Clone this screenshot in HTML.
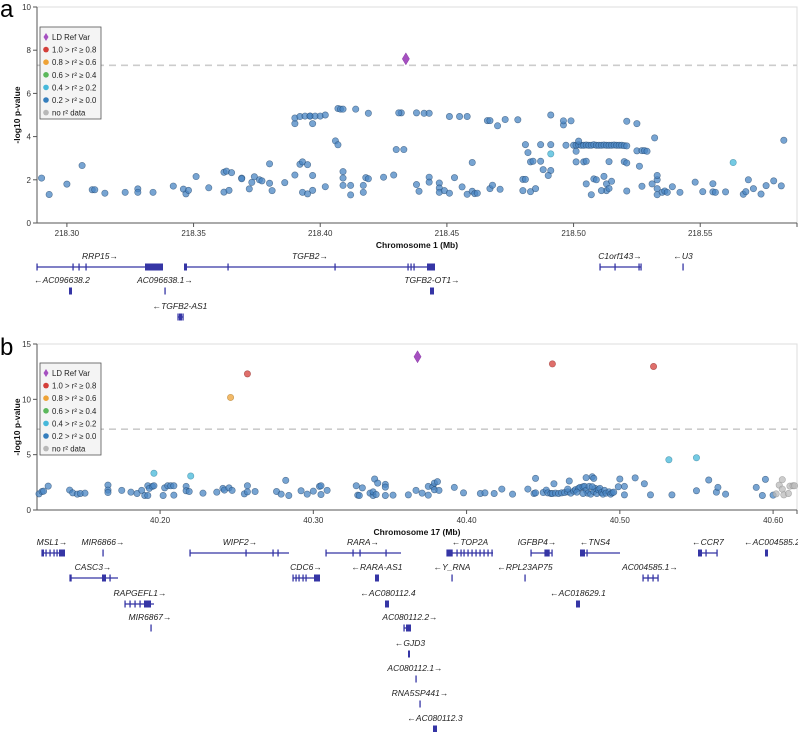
<!DOCTYPE html>
<html><head><meta charset="utf-8"><style>
body{margin:0;background:#fff;}
svg{display:block;font-family:"Liberation Sans",sans-serif;}
.tk{font-size:8px;fill:#333;}
.gl{font-size:8.5px;font-style:italic;fill:#222;}
.ax{font-size:8.5px;font-weight:bold;fill:#111;}
.lg{font-size:7.8px;fill:#222;}
</style></head><body>
<svg id="fig" width="798" height="732" viewBox="0 0 798 732" xmlns="http://www.w3.org/2000/svg">
<text x="0" y="17" font-size="24">a</text>
<text x="0" y="355" font-size="24">b</text>
</svg>
<script>
// ---------- Panel A data ----------
const aPos=[218.290,218.293,218.300,218.306,218.310,218.311,218.315,218.323,218.328,218.328,218.334,218.342,218.346,218.347,218.348,218.351,218.356,218.362,218.362,218.363,218.365,218.364,218.369,218.369,218.372,218.373,218.374,218.376,218.377,218.380,218.380,218.381,218.386,218.390,218.390,218.390,218.392,218.393,218.392,218.393,218.395,218.394,218.396,218.396,218.397,218.395,218.397,218.397,218.398,218.400,218.402,218.402,218.406,218.407,218.407,218.408,218.409,218.409,218.409,218.409,218.412,218.412,218.414,218.417,218.417,218.418,218.419,218.419,218.425,218.429,218.430,218.432,
218.431,218.438,218.441,218.443,218.433,218.451,218.455,218.458,218.466,218.467,218.470,218.473,218.478,218.491,218.496,218.496,218.499,218.521,218.525,218.532,218.583,218.481,218.487,218.491,218.482,218.460,218.483,218.484,218.487,218.488,218.491,218.490,218.497,
218.500,218.501,218.502,218.503,218.504,218.505,218.506,218.507,218.508,218.509,218.510,218.511,218.512,218.513,218.514,218.515,218.516,218.517,218.518,218.519,218.520,218.521,
218.502,218.501,218.501,218.504,218.505,218.514,218.520,218.521,218.525,218.527,218.528,218.529,218.526,
218.438,218.439,218.443,218.443,218.447,218.447,218.447,218.449,218.451,218.453,218.456,218.458,218.460,218.461,218.462,218.467,218.468,218.471,218.480,218.481,218.480,218.483,218.485,218.505,218.507,218.508,218.509,218.512,218.513,218.513,218.511,218.514,218.515,218.521,218.527,218.531,218.533,218.533,218.533,218.533,218.535,218.536,218.537,218.539,218.542,218.548,218.551,218.555,218.555,218.556,218.560,218.567,218.568,218.569,218.571,218.574,218.576,218.579,218.582];
const aVal=[2.08,1.32,1.8,2.66,1.54,1.54,1.38,1.42,1.58,1.42,1.42,1.71,1.57,1.35,1.51,2.15,1.63,1.43,2.35,2.4,2.33,1.51,2.08,2.05,1.58,1.88,2.14,2.0,1.95,2.74,1.84,1.5,1.87,2.22,4.6,4.86,2.72,2.83,4.93,1.42,2.7,4.95,4.95,4.95,2.2,1.35,1.51,4.6,4.95,4.95,5.0,1.68,3.8,3.62,5.3,5.27,5.27,2.38,2.08,1.74,1.74,1.3,5.27,1.74,1.42,2.1,2.05,5.08,2.12,2.22,3.4,5.1,
5.1,5.1,5.08,5.08,3.4,4.93,4.93,4.93,4.74,4.74,4.5,4.79,4.78,5.0,4.54,4.73,4.73,4.71,4.6,3.94,3.83,3.63,3.63,3.63,3.26,2.8,2.83,2.86,2.86,2.47,2.43,2.2,3.6,
3.6,3.6,3.62,3.6,3.6,3.61,3.6,3.6,3.62,3.6,3.6,3.6,3.61,3.6,3.6,3.6,3.61,3.6,3.6,3.6,3.58,3.57,
3.79,3.32,2.83,2.83,2.86,2.84,2.84,2.78,3.34,3.35,3.35,3.32,2.63,
1.78,1.47,2.12,1.89,1.85,1.62,1.42,1.5,1.38,2.1,1.67,1.33,1.47,1.36,1.38,1.59,1.75,1.56,2.02,2.02,1.5,1.45,1.59,1.81,1.31,2.04,2.0,2.16,1.81,1.5,1.5,1.6,1.93,1.48,1.7,1.81,2.0,2.2,1.59,1.31,1.42,1.48,1.42,1.68,1.42,1.89,1.45,1.44,1.82,1.42,1.44,1.33,1.45,2.0,1.59,1.34,1.73,1.95,1.72];
const aCyanPos=[218.491,218.563];
const aCyanVal=[3.2,2.8];
const aRefPos=[218.4338];
const aRefVal=[7.6];
const aTicks=[218.30,218.35,218.40,218.45,218.50,218.55];
const aTickLabels=["218.30","218.35","218.40","218.45","218.50","218.55"];
const aYTicks=[0,2,4,6,8,10];

// ---------- Panel B data ----------
const bPos=[40.121,40.123,40.124,40.127,40.141,40.143,40.146,40.148,40.151,40.166,40.166,40.166,40.175,40.181,40.185,40.188,40.190,40.192,40.192,40.193,40.195,40.196,40.202,40.203,40.205,40.207,40.209,40.209,40.217,40.217,40.219,40.228,40.237,40.241,40.242,40.245,40.247,40.255,40.257,40.257,40.262,40.276,40.279,40.282,40.284,40.292,40.296,40.300,40.304,40.305,40.305,40.309,40.328,40.329,40.330,40.332,40.337,40.339,40.340,40.339,40.341,40.342,40.347,40.347,40.347,40.352,
40.362,40.367,40.371,40.375,40.375,40.378,40.379,40.381,40.379,40.382,40.392,40.398,40.409,40.412,40.418,40.423,40.430,40.440,40.444,40.445,40.445,40.450,40.452,40.457,40.467,40.478,40.482,40.483,40.499,40.500,40.503,40.503,40.510,40.516,40.520,40.534,40.550,40.558,40.563,40.564,40.569,40.589,40.593,40.595,40.600,
40.453,40.455,40.456,40.458,40.460,40.462,40.464,40.466,40.468,40.470,40.471,40.473,40.474,40.476,40.477,40.478,40.479,40.480,40.481,40.483,40.484,40.485,40.486,40.487,40.488,40.489,40.490,40.491,40.493,40.494,40.495,40.496,40.466,40.472,40.482,40.476];
const bVal=[1.46,1.67,1.7,2.16,1.8,1.55,1.43,1.49,1.52,2.25,1.8,1.58,1.77,1.61,1.49,1.77,1.31,2.19,1.31,1.95,2.13,2.19,1.31,2.0,2.19,2.19,2.19,1.34,2.13,1.74,1.67,1.52,1.61,1.95,1.8,2.0,1.77,1.46,1.64,2.19,1.67,1.67,1.43,2.68,1.31,1.74,1.43,1.7,2.13,2.19,1.4,1.77,2.19,1.34,1.31,2.0,1.52,1.31,2.8,1.64,1.4,2.43,2.31,2.07,1.31,1.34,
1.37,1.77,1.52,2.13,1.34,2.1,2.43,2.56,1.83,1.77,2.04,1.55,1.49,1.55,1.49,1.89,1.43,1.89,1.49,2.86,1.55,1.58,1.8,2.37,2.62,2.92,3.0,2.86,2.1,2.8,2.13,1.37,2.9,2.37,1.37,1.37,1.74,2.71,1.61,2.04,1.43,2.04,1.31,2.77,1.34,
1.55,1.49,1.49,1.52,1.49,1.55,1.58,1.64,1.52,1.7,1.83,1.95,2.04,2.1,2.13,1.77,1.52,2.13,1.43,1.67,1.95,1.49,1.83,1.95,1.58,1.43,1.77,1.52,1.64,1.43,1.55,1.61,1.89,1.61,2.1,1.49];
const bCyanPos=[40.196,40.220,40.532,40.550];
const bCyanVal=[3.32,3.07,4.54,4.72];
const bOrangePos=[40.246];
const bOrangeVal=[10.17];
const bRedPos=[40.257,40.456,40.522];
const bRedVal=[12.3,13.2,12.97];
const bGreyPos=[40.602,40.604,40.606,40.606,40.607,40.610,40.611,40.613,40.614];
const bGreyVal=[1.46,2.25,2.74,1.89,1.37,1.49,2.16,2.19,2.19];
const bRefPos=[40.368];
const bRefVal=[13.85];
const bTicks=[40.20,40.30,40.40,40.50,40.60];
const bTickLabels=["40.20","40.30","40.40","40.50","40.60"];
const bYTicks=[0,5,10,15];

const NS="http://www.w3.org/2000/svg";
const svg=document.getElementById('fig');
function mk(tag,attrs,parent,txt){const e=document.createElementNS(NS,tag);for(const k in attrs)e.setAttribute(k,attrs[k]);if(txt!==undefined)e.textContent=txt;(parent||svg).appendChild(e);return e;}

function panel(cfg){
  const g=mk('g',{});
  
  
  const L=37,R=797,T=cfg.top,B=cfg.bottom;
  const xs=v=>L+(v-cfg.x0)/(cfg.x1-cfg.x0)*(R-L);
  const ys=v=>B-(v/cfg.ymax)*(B-T);
  const fr=mk('path',{d:`M${L} ${T}H${R}V${B}`,fill:'none',stroke:'#ddd','stroke-width':1},g);
  
  
  const th=mk('line',{x1:L,x2:R,y1:ys(7.3),y2:ys(7.3),stroke:'#ccc','stroke-width':1.6,'stroke-dasharray':'7,5'},g);
  
  
  const ya=mk('line',{x1:L,x2:L,y1:T,y2:B,stroke:'#555'},g);
  
  
  const xa=mk('line',{x1:L,x2:R,y1:B,y2:B,stroke:'#555'},g);
  
  
  cfg.yt.forEach(v=>{
    mk('line',{x1:L-4,x2:L,y1:ys(v),y2:ys(v),stroke:'#555'},g);
    const t=mk('text',{x:L-6,y:ys(v)+3,'text-anchor':'end',class:'tk'},g,String(v));
    
    
  });
  cfg.xt.forEach((v,i)=>{
    mk('line',{x1:xs(v),x2:xs(v),y1:B,y2:B+4,stroke:'#555'},g);
    const t=mk('text',{x:xs(v),y:B+13,'text-anchor':'middle',class:'tk'},g,cfg.xl[i]);
    
    
  });
  mk('line',{x1:R,x2:R,y1:B,y2:B+4,stroke:'#555'},g);
  const xt=mk('text',{x:417,y:B+25,'text-anchor':'middle',class:'ax'},g,cfg.xtitle);
  
  
  const yt=mk('text',{x:0,y:0,'text-anchor':'middle',class:'ax',transform:`translate(20 ${(T+B)/2}) rotate(-90)`},g,'-log10 p-value');
  
  
  cfg.series.forEach(s=>{
    s.pos.forEach((p,i)=>{
      const c=mk('circle',{cx:xs(p),cy:ys(s.val[i]),r:3.2,fill:s.fill,'fill-opacity':0.75,stroke:s.stroke,'stroke-opacity':0.6,'stroke-width':0.6},g);
      
      
    });
  });
  cfg.ref.pos.forEach((p,i)=>{
    const x=xs(p),y=ys(cfg.ref.val[i]);
    const d=mk('path',{d:`M${x} ${y-6}L${x+3.6} ${y}L${x} ${y+6}L${x-3.6} ${y}Z`,fill:'#a550c0',stroke:'#8a3aa5','stroke-width':0.5},g);
    
    
  });
  const lg=mk('g',{},g);
  
  
  const ly=cfg.ly;
  mk('rect',{x:40,y:ly,width:61,height:92,fill:'#f4f4f4',stroke:'#555','stroke-width':0.8},lg);
  const items=[['LD Ref Var','#a550c0'],['1.0 > r² ≥ 0.8','#d43f3a'],['0.8 > r² ≥ 0.6','#eea236'],['0.6 > r² ≥ 0.4','#5cb85c'],['0.4 > r² ≥ 0.2','#46b8da'],['0.2 > r² ≥ 0.0','#357ebd'],['no r² data','#b8b8b8']];
  items.forEach((it,i)=>{
    const yy=ly+10+i*12.6;
    if(i===0) mk('path',{d:`M46 ${yy-4}L48.5 ${yy}L46 ${yy+4}L43.5 ${yy}Z`,fill:it[1]},lg);
    else mk('circle',{cx:46,cy:yy,r:2.8,fill:it[1]},lg);
    const t=mk('text',{x:52,y:yy+3,class:'lg'},lg,it[0]);
    
    
  });
}
const BLUE={fill:'#4a85c3',stroke:'#1d3f66'};
panel({name:'panel-a-association-plot',top:7,bottom:223,x0:218.2882,x1:218.5882,ymax:10,yt:aYTicks,xt:aTicks,xl:aTickLabels,xtitle:'Chromosome 1 (Mb)',ly:27,
  series:[{pos:aPos,val:aVal,fill:BLUE.fill,stroke:BLUE.stroke,nm:'variant-point'},{pos:aCyanPos,val:aCyanVal,fill:'#46b8da',stroke:'#2a7a96',nm:'variant-point-cyan'}],
  ref:{pos:aRefPos,val:aRefVal}});
panel({name:'panel-b-association-plot',top:344,bottom:510,x0:40.1197,x1:40.6156,ymax:15,yt:bYTicks,xt:bTicks,xl:bTickLabels,xtitle:'Chromosome 17 (Mb)',ly:363,
  series:[{pos:bPos,val:bVal,fill:BLUE.fill,stroke:BLUE.stroke,nm:'variant-point'},{pos:bGreyPos,val:bGreyVal,fill:'#bbb',stroke:'#888',nm:'variant-point-grey'},{pos:bCyanPos,val:bCyanVal,fill:'#46b8da',stroke:'#2a7a96',nm:'variant-point-cyan'},{pos:bOrangePos,val:bOrangeVal,fill:'#eea236',stroke:'#a0701f',nm:'variant-point-orange'},{pos:bRedPos,val:bRedVal,fill:'#d43f3a',stroke:'#8a2724',nm:'variant-point-red'}],
  ref:{pos:bRefPos,val:bRefVal}});

// ---------- Gene tracks (pixel layout) ----------
const GC='#3535a5';
function gene(label,lx,ly,x1,x2,exons,boxes,h){
  const g=mk('g',{});
  
  
  mk('text',{x:lx,y:ly,'text-anchor':'middle',class:'gl'},g,label);
  const y=ly+8;
  if(x2>x1) mk('line',{x1:x1,x2:x2,y1:y,y2:y,stroke:GC,'stroke-width':1.3},g);
  exons.forEach(e=>mk('rect',{x:e-0.6,y:y-3.5,width:1.3,height:7,fill:GC},g));
  boxes.forEach(b=>mk('rect',{x:b[0],y:y-(h||3.5),width:b[1]-b[0],height:2*(h||3.5),fill:GC},g));
}
gene('RRP15→',100,259,37,163,[37,73,79,86],[[145,163]]);
gene('TGFB2→',310,259,185,435,[185,228,335,408,411,414],[[184,187],[427,435]]);
gene('C1orf143→',620,259,600,641,[600,615,639,641],[]);
gene('←U3',683,259,0,0,[683],[]);
gene('←AC096638.2',62,283,0,0,[],[[69,72]]);
gene('AC096638.1→',165,283,0,0,[165],[]);
gene('TGFB2-OT1→',432,283,0,0,[],[[430,434]]);
gene('←TGFB2-AS1',180,309,178,183,[178,183],[[179,182]]);
gene('MSL1→',52,545,42,65,[42,46,50,54,57],[[59,65],[42,44]]);
gene('MIR6866→',103,545,0,0,[103],[]);
gene('WIPF2→',240,545,190,289,[190,246,273,278],[]);
gene('RARA→',363,545,326,401,[326,353,360,386],[]);
gene('←TOP2A',470,545,447,493,[447,452,457,461,464,468,472,476,480,484,488,492],[[447,452]]);
gene('IGFBP4→',537,545,531,552,[531,545,549,552],[[545,549]]);
gene('←TNS4',595,545,580,620,[587],[[580,585]]);
gene('←CCR7',708,545,698,717,[706,717],[[698,702]]);
gene('←AC004585.2',772,545,0,0,[],[[765,768]]);
gene('CASC3→',93,570,70,118,[70,71,110],[[102,106]]);
gene('CDC6→',306,570,293,320,[293,296,299,303,306],[[314,320]]);
gene('←RARA-AS1',377,570,0,0,[],[[375,379]]);
gene('←Y_RNA',452,570,0,0,[452],[]);
gene('←RPL23AP75',525,570,0,0,[525],[]);
gene('AC004585.1→',650,570,643,658,[643,648,653,658],[]);
gene('RAPGEFL1→',140,596,125,154,[125,130,135,140],[[144,151]]);
gene('←AC080112.4',388,596,0,0,[],[[385,389]]);
gene('←AC018629.1',578,596,0,0,[],[[576,580]]);
gene('MIR6867→',150,620,0,0,[151],[]);
gene('AC080112.2→',410,620,404,411,[404],[[406,411]]);
gene('←GJD3',410,646,0,0,[],[[408,410]]);
gene('AC080112.1→',415,671,0,0,[416],[]);
gene('RNA5SP441→',420,696,0,0,[420],[]);
gene('←AC080112.3',435,721,0,0,[],[[433,437]]);
</script>
</body></html>
